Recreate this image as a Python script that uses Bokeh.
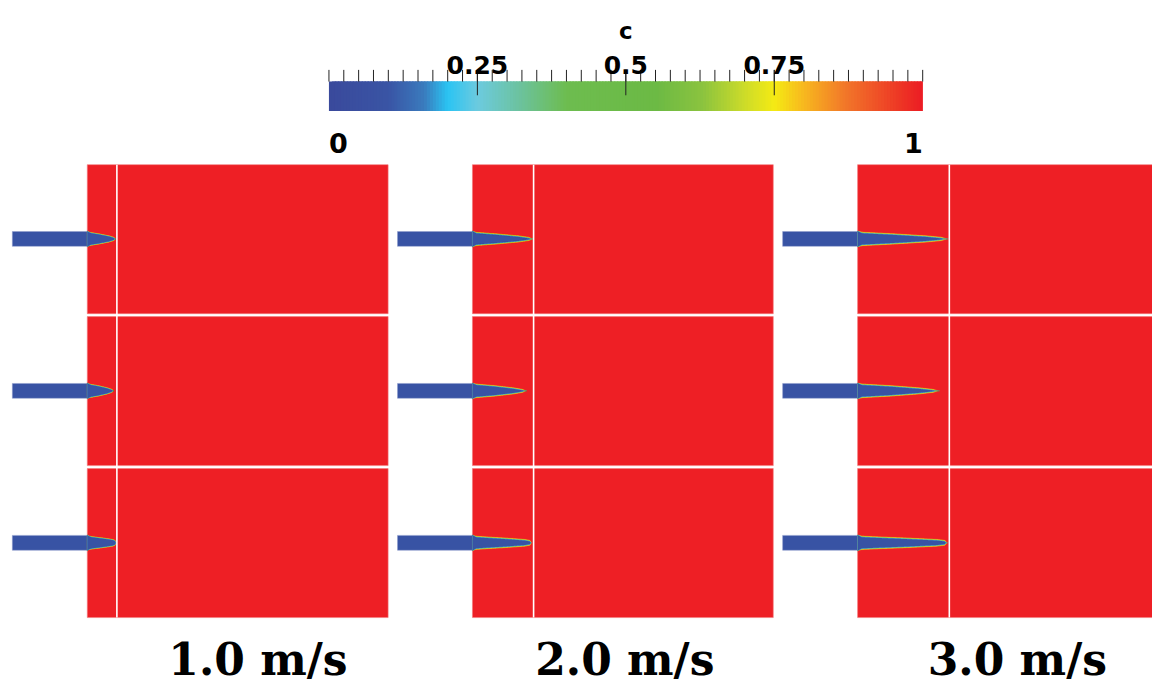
import numpy as np
from bokeh.plotting import figure
from bokeh.models import Range1d
from bokeh.core.properties import value
from bokeh.embed import file_html
from bokeh.resources import INLINE

# ---------------- data ----------------
velocity_labels = ["1.0 m/s", "2.0 m/s", "3.0 m/s"]
# flame length (chamber units) for each inlet velocity, three cases (rows)
flame_length_row1 = [29, 62, 92]
flame_length_row2 = [27, 55, 83]
flame_length_row3 = [29, 60, 91]
# reference (white line) flame length per velocity
reference_length = [30, 62, 93]

# flame shape profiles: fraction of flame length -> fraction of inlet half-height
profile_s_row1 = [0.0, 0.06, 0.40, 0.75, 0.92, 1.0]
profile_h_row1 = [1.0, 0.90, 0.70, 0.45, 0.26, 0.0]
profile_s_row2 = [0.0, 0.06, 0.40, 0.75, 0.92, 1.0]
profile_h_row2 = [1.0, 0.92, 0.72, 0.44, 0.24, 0.0]
profile_s_row3 = [0.0, 0.05, 0.20, 0.55, 0.88, 0.97, 1.0]
profile_h_row3 = [1.0, 0.90, 0.82, 0.66, 0.48, 0.36, 0.0]

cbar_title = "c"
cbar_major_ticks = [0.25, 0.5, 0.75]
cbar_major_labels = ["0.25", "0.5", "0.75"]
cbar_end_values = [0.0, 1.0]
cbar_end_labels = ["0", "1"]
cbar_stops = [0.0, 0.10, 0.16, 0.20, 0.25, 0.32, 0.40, 0.55, 0.63, 0.70, 0.75, 0.80, 0.87, 1.0]
cbar_colors = ["#3a4a9c", "#3b55a5", "#3a7bbd", "#2bc4f3", "#6ccbe0", "#6cc3a0",
               "#6ebd50", "#6cba45", "#8cc43f", "#cddc2a", "#f5eb14", "#f8b81f",
               "#f2772a", "#ec1c24"]

# ---------------- layout / style ----------------
RED = "#ee1f25"
BLUE = "#3853a4"
col_x0 = [88.0, 478.5, 869.0]
row_top = [168.0, 323.5, 479.0]
ROW_H = 152.5
PANEL_W = 305.0
INLET_LEN = 76.0
INLET_HALF = 7.6
FLAME_HALF = 8.0
label_x = [261, 633, 1031]
CB_L, CB_R, CB_T, CB_B = 333.0, 935.0, 83.0, 113.0

layer_insets = [0.0, 0.4, 0.8, 1.15, 1.5]
layer_colors = ["#f36a24", "#f4e41c", "#8dc641", "#45c1ea", BLUE]

p = figure(width=1152, height=684, x_range=Range1d(0, 1168), y_range=Range1d(700, 0),
           output_backend="svg", toolbar_location=None, min_border=0,
           x_axis_location=None, y_axis_location=None, background_fill_color="white")
p.grid.visible = False
p.outline_line_color = None

# ---------------- colour bar ----------------
def hex2rgb(h):
    return np.array([int(h[i:i + 2], 16) for i in (1, 3, 5)], dtype=float)

rgb = np.array([hex2rgb(c) for c in cbar_colors])
N = 200
edges = np.linspace(0, 1, N + 1)
mids = 0.5 * (edges[:-1] + edges[1:])
cols = []
for m in mids:
    r = np.interp(m, cbar_stops, rgb[:, 0])
    g = np.interp(m, cbar_stops, rgb[:, 1])
    b = np.interp(m, cbar_stops, rgb[:, 2])
    cols.append("#%02x%02x%02x" % (int(r), int(g), int(b)))
sx = lambda v: CB_L + np.asarray(v) * (CB_R - CB_L)
rights = np.minimum(edges[1:] + 1.5 / N, 1.0)
p.quad(left=sx(edges[:-1]), right=sx(rights), top=CB_T, bottom=CB_B,
       fill_color=cols, line_color=None)

minor = np.arange(0, 41) / 40.0
p.segment(x0=sx(minor), x1=sx(minor), y0=CB_T - 12, y1=CB_T, line_color="#222222", line_width=1)
p.segment(x0=sx(cbar_major_ticks), x1=sx(cbar_major_ticks), y0=CB_T - 12, y1=CB_T + 14,
          line_color="#222222", line_width=1)
p.text(x=sx(cbar_major_ticks), y=[66] * 3, text=cbar_major_labels, text_align="center",
       text_baseline="alphabetic", text_font=value("DejaVu Sans"), text_font_style="bold",
       text_font_size=value("25px"), text_color="black")
p.text(x=sx(cbar_end_values), y=[146, 146], text=cbar_end_labels,
       text_align=["left", "right"], text_baseline="alphabetic", text_font=value("DejaVu Sans"),
       text_font_style="bold", text_font_size=value("27px"), text_color="black")
p.text(x=[sx(0.5)], y=[31], text=[cbar_title], text_align="center", text_baseline="alphabetic",
       text_font=value("DejaVu Sans"), text_font_style="bold", text_font_size=value("23px"),
       text_color="black")

# ---------------- panels ----------------
rows = [(flame_length_row1, profile_s_row1, profile_h_row1),
        (flame_length_row2, profile_s_row2, profile_h_row2),
        (flame_length_row3, profile_s_row3, profile_h_row3)]

q_l, q_r, q_t, q_b = [], [], [], []
for j in range(3):
    for i in range(3):
        q_l.append(col_x0[j]); q_r.append(col_x0[j] + PANEL_W)
        q_t.append(row_top[i]); q_b.append(row_top[i] + ROW_H)
p.quad(left=q_l, right=q_r, top=q_t, bottom=q_b, fill_color=RED, line_color="#f47a7c", line_width=0.6)

# inlet bars
b_l, b_r, b_t, b_b = [], [], [], []
for j in range(3):
    for i in range(3):
        yc = row_top[i] + 76
        b_l.append(col_x0[j] - INLET_LEN); b_r.append(col_x0[j] + 0.5)
        b_t.append(yc - INLET_HALF); b_b.append(yc + INLET_HALF)
p.quad(left=b_l, right=b_r, top=b_t, bottom=b_b, fill_color=BLUE, line_color="#8f9ccc", line_width=0.5)

s = np.linspace(0, 1, 240)
for k, (inset, color) in enumerate(zip(layer_insets, layer_colors)):
    xs, ys = [], []
    for i, (lengths, ps, ph) in enumerate(rows):
        yc = row_top[i] + 76
        for j in range(3):
            L = lengths[j]
            scale = min(1.0, max(0.7, L / 60.0))
            h = np.interp(s, ps, ph) * FLAME_HALF
            ramp = np.clip(s * L / 4.0, 0, 1)
            hl = np.maximum(h - inset * scale * ramp, 0)
            x = col_x0[j] + s * L
            xs.append(list(np.concatenate([x, x[::-1]])))
            ys.append(list(np.concatenate([yc - hl, (yc + hl)[::-1]])))
    p.patches(xs=xs, ys=ys, fill_color=color, line_color=color, line_width=0.4, line_alpha=0.6)

# white reference lines
p.segment(x0=[col_x0[j] + reference_length[j] for j in range(3)],
          x1=[col_x0[j] + reference_length[j] for j in range(3)],
          y0=[row_top[0]] * 3, y1=[row_top[2] + ROW_H] * 3, line_color="white", line_width=1.6)

# bottom labels
p.text(x=label_x, y=[674] * 3, text=velocity_labels, text_align="center",
       text_baseline="alphabetic", text_font=value("DejaVu Serif"), text_font_style="bold",
       text_font_size=value("44px"), text_color="black")

open("out.html", "w").write(file_html(p, INLINE))
